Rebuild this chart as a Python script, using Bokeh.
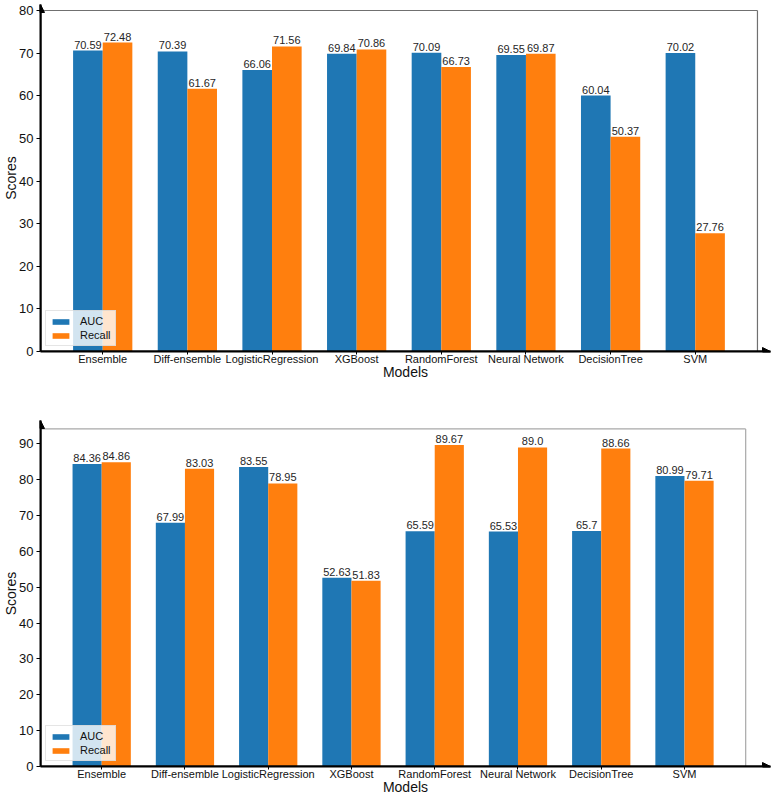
import numpy as np
from bokeh.plotting import figure
from bokeh.models import (ColumnDataSource, FixedTicker, Arrow, NormalHead,
                          Legend, LegendItem, Range1d)
from bokeh.layouts import column
from bokeh.embed import file_html
from bokeh.resources import INLINE
from bokeh.core.properties import value

# ---------------- data ----------------
models = ["Ensemble", "Diff-ensemble", "LogisticRegression", "XGBoost",
          "RandomForest", "Neural Network", "DecisionTree", "SVM"]

auc_top = [70.59, 70.39, 66.06, 69.84, 70.09, 69.55, 60.04, 70.02]
recall_top = [72.48, 61.67, 71.56, 70.86, 66.73, 69.87, 50.37, 27.76]

auc_bottom = [84.36, 67.99, 83.55, 52.63, 65.59, 65.53, 65.7, 80.99]
recall_bottom = [84.86, 83.03, 78.95, 51.83, 89.67, 89.0, 88.66, 79.71]

y_ticks_top = [0, 10, 20, 30, 40, 50, 60, 70, 80]
y_ticks_bottom = [0, 10, 20, 30, 40, 50, 60, 70, 80, 90]
y_limit_top = 80

# ---------------- style ----------------
FONT = "Liberation Sans"
BLUE = "#1f77b4"
ORANGE = "#ff7f0e"
BAR_W = 0.35
WIDTH = 777


def make_chart(auc, recall, y_ticks, y_top, y_end, x_end, height,
               border_top, border_bottom, border_right, spine_color):
    n = len(models)
    xs = np.arange(n)
    span = (n - 1) + 2 * BAR_W
    x0 = -BAR_W - 0.05 * span
    x1 = (n - 1) + BAR_W + 0.05 * span

    p = figure(width=WIDTH, height=height,
               x_range=Range1d(x0, x_end), y_range=Range1d(0, y_end),
               output_backend="svg", toolbar_location=None,
               min_border_left=40, min_border_right=border_right,
               min_border_top=border_top, min_border_bottom=border_bottom)
    p.outline_line_color = None
    p.xgrid.visible = False
    p.ygrid.visible = False
    p.background_fill_color = "white"

    src_a = ColumnDataSource(dict(x=xs - BAR_W / 2, top=auc,
                                  lab=[str(v) for v in auc]))
    src_r = ColumnDataSource(dict(x=xs + BAR_W / 2, top=recall,
                                  lab=[str(v) for v in recall]))
    ra = p.vbar(x="x", top="top", width=BAR_W, source=src_a,
                fill_color=BLUE, line_color=None)
    rr = p.vbar(x="x", top="top", width=BAR_W, source=src_r,
                fill_color=ORANGE, line_color=None)

    for src in (src_a, src_r):
        p.text(x="x", y="top", text="lab", source=src,
               text_font=value(FONT), text_font_size="11px",
               text_color="#262626", text_align="center",
               text_baseline="bottom", y_offset=-2)

    # top and right frame lines
    p.line([x0, x1], [y_top, y_top], line_color=spine_color, line_width=1.2)
    p.line([x1, x1], [0, y_top], line_color=spine_color, line_width=1.2)

    # arrows on the axes
    p.add_layout(Arrow(end=NormalHead(size=8, fill_color="black",
                                      line_color="black", line_width=1),
                       x_start=x0, y_start=0, x_end=x0, y_end=y_end,
                       line_width=2, line_color="black"))
    p.add_layout(Arrow(end=NormalHead(size=8, fill_color="black",
                                      line_color="black", line_width=1),
                       x_start=x0, y_start=0, x_end=x_end, y_end=0,
                       line_width=2, line_color="black"))

    # x axis
    xa = p.xaxis[0]
    xa.ticker = FixedTicker(ticks=[int(i) for i in xs])
    xa.major_label_overrides = {int(i): m for i, m in enumerate(models)}
    xa.major_label_text_font = FONT
    xa.major_label_text_font_size = "11px"
    xa.major_label_text_color = "#111111"
    xa.major_tick_in = 0
    xa.major_tick_out = 3
    xa.minor_tick_in = 0
    xa.minor_tick_out = 0
    xa.major_label_standoff = -2
    xa.axis_line_width = 2
    xa.axis_label = "Models"
    xa.axis_label_text_font = FONT
    xa.axis_label_text_font_size = "14px"
    xa.axis_label_text_font_style = "normal"
    xa.axis_label_text_color = "#111111"
    xa.axis_label_standoff = -4

    # y axis
    ya = p.yaxis[0]
    ya.ticker = FixedTicker(ticks=y_ticks)
    ya.major_label_text_font = FONT
    ya.major_label_text_font_size = "13px"
    ya.major_label_text_color = "#111111"
    ya.major_tick_in = 0
    ya.major_tick_out = 4
    ya.minor_tick_in = 0
    ya.minor_tick_out = 0
    ya.major_label_standoff = 3
    ya.axis_line_width = 2
    ya.axis_label = "Scores"
    ya.axis_label_text_font = FONT
    ya.axis_label_text_font_size = "14px"
    ya.axis_label_text_font_style = "normal"
    ya.axis_label_text_color = "#111111"
    ya.axis_label_standoff = -3

    legend = Legend(items=[LegendItem(label="AUC", renderers=[ra]),
                           LegendItem(label="Recall", renderers=[rr])],
                    location="bottom_left")
    legend.margin = 5
    legend.padding = 4
    legend.spacing = 2
    legend.glyph_width = 21
    legend.glyph_height = 7
    legend.label_height = 12
    legend.label_standoff = 9
    legend.label_text_font = FONT
    legend.label_text_font_size = "11px"
    legend.label_text_color = "#111111"
    legend.border_line_color = "#cccccc"
    legend.border_line_width = 1
    legend.background_fill_alpha = 0.8
    p.add_layout(legend)
    return p


top_limit = y_limit_top
bottom_limit = 1.05 * max(auc_bottom + recall_bottom)

p1 = make_chart(auc_top, recall_top, y_ticks_top, top_limit,
                y_end=81.41, x_end=7.889, height=391, border_top=4,
                border_bottom=40, border_right=7, spine_color="#707070")
p2 = make_chart(auc_bottom, recall_bottom, y_ticks_bottom, bottom_limit,
                y_end=96.5, x_end=8.033, height=406, border_top=29,
                border_bottom=30, border_right=4, spine_color="#a8a8a8")

layout = column(p1, p2, spacing=0)
open("out.html", "w").write(file_html(layout, INLINE))
